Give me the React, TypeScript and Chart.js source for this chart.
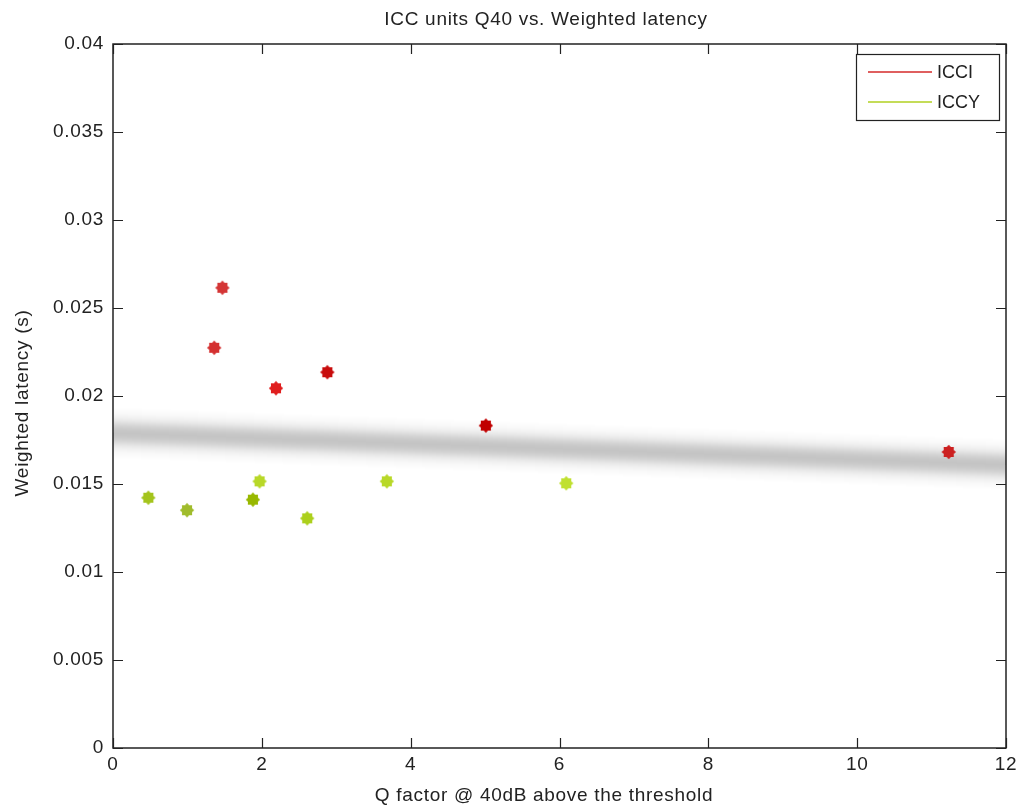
import React, { useEffect, useRef } from "react";
import { Chart, registerables } from "chart.js";

Chart.register(...registerables);

// ---- data ----
const seriesNames = ["ICCI", "ICCY"];
const icciX = [1.47, 1.36, 2.19, 2.88, 5.01, 11.23];
const icciY = [0.02615, 0.02274, 0.02044, 0.02135, 0.01832, 0.01682];
const iccyX = [0.475, 0.995, 1.88, 1.97, 2.61, 3.68, 6.09];
const iccyY = [0.01422, 0.01351, 0.01411, 0.01515, 0.01305, 0.01515, 0.01504];
const fitX = [0, 12];
const fitY = [0.0179, 0.0161];
const xTickValues = [0, 2, 4, 6, 8, 10, 12];
const yTickValues = [0, 0.005, 0.01, 0.015, 0.02, 0.025, 0.03, 0.035, 0.04];
const yTickLabels = ["0", "0.005", "0.01", "0.015", "0.02", "0.025", "0.03", "0.035", "0.04"];
const xTickLabels = ["0", "2", "4", "6", "8", "10", "12"];
const chartTitle = "ICC units Q40 vs. Weighted latency";
const xAxisTitle = "Q factor @ 40dB above the threshold";
const yAxisTitle = "Weighted latency (s)";

// ---- styles ----
const icciColors = ["#d43535", "#d43030", "#e01e1e", "#c80c0c", "#c00000", "#cc2020"];
const iccyColors = ["#a4c41c", "#a0bc2c", "#98b800", "#b8d828", "#acd01c", "#b8d828", "#c0e030"];
const legendColors = ["#d42a2a", "#b0d020"];
const FONT = '"Liberation Sans", Arial, sans-serif';
const TEXT = "#222222";
const SPACING = "0.7px";
const FS = 19;

function starCanvas(color: string): HTMLCanvasElement {
  const c = document.createElement("canvas");
  const s = 16;
  c.width = s;
  c.height = s;
  const g = c.getContext("2d")!;
  g.fillStyle = color;
  g.beginPath();
  for (let i = 0; i < 16; i++) {
    const a = (i * Math.PI) / 8 - Math.PI / 2;
    const r = i % 2 === 0 ? 7.2 : 5.4;
    g.lineTo(s / 2 + r * Math.cos(a), s / 2 + r * Math.sin(a));
  }
  g.closePath();
  g.fill();
  return c;
}

// soft grey band (style only): layered translucent strokes, gaussian-like falloff
function bandLayers() {
  const layers: { w: number; a: number }[] = [];
  const peak = 0.22;
  const sigma = 9;
  const g = (r: number) => peak * Math.exp(-(r * r) / (2 * sigma * sigma));
  for (let r = 26; r >= 1; r--) {
    const a = g(r - 1) - g(r);
    layers.push({ w: 2 * r, a: Math.max(a, 0.002) });
  }
  return layers;
}

export default function App() {
  const ref = useRef<HTMLCanvasElement>(null);

  useEffect(() => {
    const canvas = ref.current!;
    const setSpacing = (chart: any) => {
      try {
        (chart.ctx as any).letterSpacing = SPACING;
      } catch (e) {}
    };

    const decor = {
      id: "matlabDecor",
      beforeLayout: (chart: any) => setSpacing(chart),
      beforeDraw: (chart: any) => {
        const ctx = chart.ctx;
        ctx.save();
        ctx.fillStyle = "#ffffff";
        ctx.fillRect(0, 0, chart.width, chart.height);
        ctx.restore();
        setSpacing(chart);
      },
      afterDraw: (chart: any) => {
        const ctx = chart.ctx as CanvasRenderingContext2D;
        const a = chart.chartArea;
        const xs = chart.scales.x;
        const ys = chart.scales.y;
        ctx.save();
        // frame
        ctx.strokeStyle = TEXT;
        ctx.lineWidth = 1.5;
        ctx.strokeRect(a.left, a.top, a.right - a.left, a.bottom - a.top);
        // inward ticks
        ctx.lineWidth = 1.2;
        const tl = 10;
        ctx.beginPath();
        for (const v of xTickValues) {
          const px = Math.round(xs.getPixelForValue(v)) + 0.5;
          ctx.moveTo(px, a.bottom);
          ctx.lineTo(px, a.bottom - tl);
          ctx.moveTo(px, a.top);
          ctx.lineTo(px, a.top + tl);
        }
        for (const v of yTickValues) {
          const py = Math.round(ys.getPixelForValue(v)) + 0.5;
          ctx.moveTo(a.left, py);
          ctx.lineTo(a.left + tl, py);
          ctx.moveTo(a.right, py);
          ctx.lineTo(a.right - tl, py);
        }
        ctx.stroke();

        // legend
        const lx = 856.5, ly = 54.5, lw = 143, lh = 66;
        ctx.fillStyle = "#ffffff";
        ctx.fillRect(lx, ly, lw, lh);
        ctx.strokeStyle = TEXT;
        ctx.lineWidth = 1.2;
        ctx.strokeRect(lx, ly, lw, lh);
        (ctx as any).letterSpacing = "0px";
        ctx.font = `18px ${FONT}`;
        ctx.textAlign = "left";
        ctx.textBaseline = "middle";
        seriesNames.forEach((name, i) => {
          const yy = 72 + i * 30;
          ctx.strokeStyle = legendColors[i];
          ctx.lineWidth = 1.5;
          ctx.beginPath();
          ctx.moveTo(868, yy);
          ctx.lineTo(932, yy);
          ctx.stroke();
          ctx.fillStyle = TEXT;
          ctx.fillText(name, 937, yy + 1);
        });

        // titles
        (ctx as any).letterSpacing = SPACING;
        ctx.fillStyle = TEXT;
        ctx.font = `${FS}px ${FONT}`;
        ctx.textAlign = "center";
        ctx.textBaseline = "middle";
        ctx.fillText(chartTitle, 546, 20);
        ctx.fillText(xAxisTitle, 544, 796);
        ctx.translate(23, 403);
        ctx.rotate(-Math.PI / 2);
        ctx.fillText(yAxisTitle, 0, 0);
        ctx.restore();
      },
    };

    const fitData = fitX.map((x, i) => ({ x, y: fitY[i] }));

    const chart = new Chart(canvas, {
      type: "scatter",
      data: {
        datasets: [
          ...bandLayers().map((l, i) => ({
            type: "line" as const,
            label: "fit" + i,
            data: fitData,
            borderColor: `rgba(0,0,0,${l.a.toFixed(4)})`,
            borderWidth: l.w,
            pointRadius: 0,
            fill: false,
            order: 10,
            clip: 0 as any,
          })),
          {
            label: seriesNames[0],
            data: icciX.map((x, i) => ({ x, y: icciY[i] })),
            pointStyle: icciColors.map(starCanvas) as any,
            backgroundColor: icciColors,
            order: 1,
          },
          {
            label: seriesNames[1],
            data: iccyX.map((x, i) => ({ x, y: iccyY[i] })),
            pointStyle: iccyColors.map(starCanvas) as any,
            backgroundColor: iccyColors,
            order: 1,
          },
        ],
      },
      options: {
        animation: false,
        responsive: false,
        devicePixelRatio: 1,
        layout: { padding: { top: 44, right: 17, left: 0, bottom: 0 } },
        plugins: {
          legend: { display: false },
          tooltip: { enabled: false },
          title: { display: false },
        },
        scales: {
          x: {
            type: "linear",
            min: 0,
            max: 12,
            grid: { display: false, drawTicks: false },
            border: { display: false },
            afterFit: (s: any) => {
              s.height = 64;
            },
            afterBuildTicks: (s: any) => {
              s.ticks = xTickValues.map((v) => ({ value: v }));
            },
            ticks: {
              padding: 5,
              maxRotation: 0,
              autoSkip: false,
              color: TEXT,
              font: { family: FONT, size: FS },
              callback: (v: any) => {
                const i = xTickValues.indexOf(Number(v));
                return i >= 0 ? xTickLabels[i] : "";
              },
            },
          },
          y: {
            type: "linear",
            min: 0,
            max: 0.04,
            grid: { display: false, drawTicks: false },
            border: { display: false },
            afterFit: (s: any) => {
              s.width = 113;
            },
            afterBuildTicks: (s: any) => {
              s.ticks = yTickValues.map((v) => ({ value: v }));
            },
            ticks: {
              padding: 9,
              autoSkip: false,
              color: TEXT,
              font: { family: FONT, size: FS },
              callback: (v: any) => {
                const i = yTickValues.findIndex((t) => Math.abs(t - Number(v)) < 1e-9);
                return i >= 0 ? yTickLabels[i] : "";
              },
            },
          },
        },
      },
      plugins: [decor],
    } as any);

    return () => chart.destroy();
  }, []);

  return (
    <div style={{ position: "fixed", left: 0, top: 0, width: 1023, height: 812, background: "#fff" }}>
      <canvas ref={ref} width={1023} height={812} />
    </div>
  );
}
